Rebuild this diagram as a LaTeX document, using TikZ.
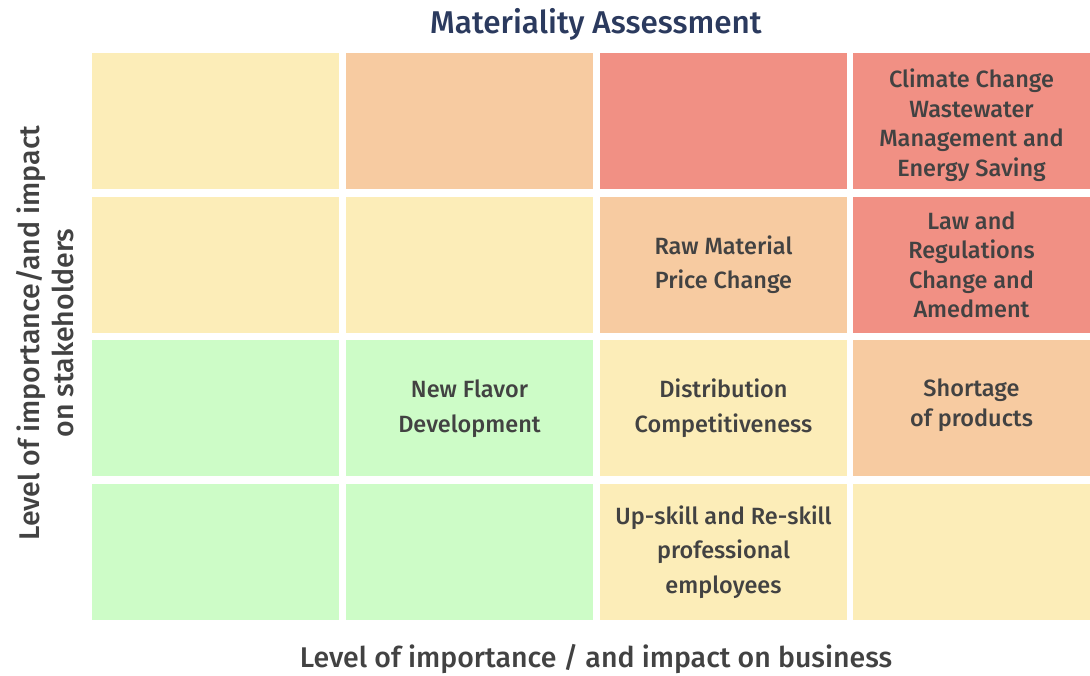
\documentclass[tikz,border=0pt]{standalone}
\usepackage{fontspec}
\setmainfont{Fira Sans}[UprightFont=* Medium]
\definecolor{lowcell}{HTML}{FCEDB8}
\definecolor{midcell}{HTML}{F7CBA1}
\definecolor{highcell}{HTML}{F19084}
\definecolor{minorcell}{HTML}{CDFCC7}
\definecolor{textgray}{HTML}{424242}
\definecolor{titleblue}{HTML}{2B3A5E}
\begin{document}
\begin{tikzpicture}[x=1pt, y=-1pt,
    cell/.style={minimum height=136pt, inner sep=0pt},
    issue/.style={text=textgray, font=\fontsize{23.5}{29.5}\selectfont, align=center},
    axis/.style={text=textgray, font=\fontsize{28.5}{34}\selectfont, align=center}]
        \useasboundingbox (0, 0) rectangle (1090, 675);

        % grid of cells: row/column/x/width/colour
        \foreach \r/\c/\x/\w/\col in {
            1/1/215.5/247/lowcell, 1/2/469.5/247/midcell, 1/3/723.5/247/highcell, 1/4/971.5/237/highcell,
            2/1/215.5/247/lowcell, 2/2/469.5/247/lowcell, 2/3/723.5/247/midcell, 2/4/971.5/237/highcell,
            3/1/215.5/247/minorcell, 3/2/469.5/247/minorcell, 3/3/723.5/247/lowcell, 3/4/971.5/237/midcell,
            4/1/215.5/247/minorcell, 4/2/469.5/247/minorcell, 4/3/723.5/247/lowcell, 4/4/971.5/237/lowcell}
        {
            \pgfmathsetmacro{\y}{121 + (\r - 1) * 143.7}
            \node[cell, fill=\col, minimum width=\w pt] (c\r\c) at (\x, \y) {};
        }

        \node[issue] (climate) at ([yshift=-4pt]c14.center) {Climate Change\\Wastewater\\Management and\\Energy Saving};
        \node[issue, font=\fontsize{23.5}{34}\selectfont] (rawmat) at (c23) {Raw Material\\Price Change};
        \node[issue] (law) at (c24) {Law and\\Regulations\\Change and\\Amedment};
        \node[issue, font=\fontsize{23.5}{35}\selectfont] (flavor) at (c32) {New Flavor\\Development};
        \node[issue, font=\fontsize{23.5}{35}\selectfont] (distrib) at (c33) {Distribution\\Competitiveness};
        \node[issue] (shortage) at ([yshift=3pt]c34.center) {Shortage\\of products};
        \node[issue, font=\fontsize{23.5}{34.5}\selectfont] (upskill) at (c43) {Up-skill and Re-skill\\professional\\employees};

        \node[text=titleblue, font=\fontsize{31.5}{34}\selectfont] (title) at (596, 24) {Materiality Assessment};
        \node[axis] (xaxis) at (596, 659) {Level of importance / and impact on business};
        \node[axis, rotate=90] (yaxis) at (45, 333) {Level of importance/and impact\\on stakeholders};

    \end{tikzpicture}
\end{document}
